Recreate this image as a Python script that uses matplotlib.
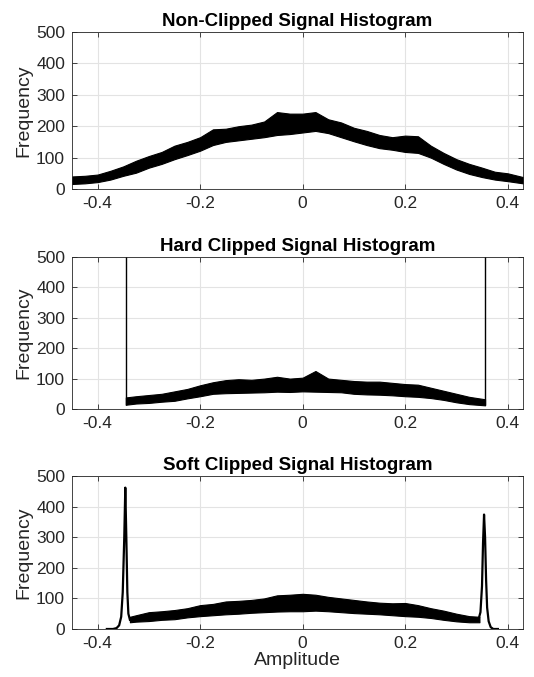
import matplotlib
matplotlib.use('Agg')
import matplotlib.pyplot as plt
import numpy as np

plt.rcParams['font.family'] = ['Liberation Sans', 'DejaVu Sans']

# non-clipped histogram: lower / upper edge of the count band
plain_x = [-0.45, -0.425, -0.4, -0.375, -0.35, -0.325, -0.3, -0.275, -0.25, -0.225,
           -0.2, -0.175, -0.15, -0.125, -0.1, -0.075, -0.05, -0.025, 0.0, 0.025,
           0.05, 0.075, 0.1, 0.125, 0.15, 0.175, 0.2, 0.225, 0.25, 0.275,
           0.3, 0.325, 0.35, 0.375, 0.4, 0.43]
plain_lo = [16, 18, 22, 30, 42, 52, 68, 80, 95, 108,
            122, 140, 150, 155, 160, 165, 172, 175, 180, 185,
            178, 165, 152, 140, 130, 125, 118, 115, 100, 80,
            62, 48, 38, 30, 25, 18]
plain_hi = [40, 42, 46, 58, 72, 90, 105, 118, 138, 150,
            165, 190, 192, 200, 205, 215, 245, 240, 240, 245,
            222, 212, 195, 185, 172, 165, 170, 168, 138, 115,
            95, 80, 68, 55, 50, 38]

# hard clipped histogram
hard_x = [-0.345, -0.325, -0.3, -0.275, -0.25, -0.225, -0.2, -0.175, -0.15, -0.125,
          -0.1, -0.075, -0.05, -0.025, 0.0, 0.025, 0.05, 0.075, 0.1, 0.125,
          0.15, 0.175, 0.2, 0.225, 0.25, 0.275, 0.3, 0.325, 0.356]
hard_lo = [14, 18, 20, 24, 27, 35, 42, 50, 52, 53,
           54, 55, 57, 56, 58, 57, 56, 55, 50, 48,
           47, 45, 42, 40, 36, 30, 22, 16, 12]
hard_hi = [38, 42, 46, 50, 58, 66, 78, 88, 95, 98,
           96, 100, 106, 100, 103, 125, 100, 96, 92, 90,
           90, 86, 82, 80, 70, 60, 50, 40, 32]
# counts piled up in the two clipping bins (off the top of the axis)
hard_edges = [-0.345, 0.356]
hard_edge_counts = [5000, 5000]

# soft clipped histogram: body band plus the two peaks
soft_x = [-0.337, -0.325, -0.3, -0.275, -0.25, -0.225, -0.2, -0.175, -0.15, -0.125,
          -0.1, -0.075, -0.05, -0.025, 0.0, 0.025, 0.05, 0.075, 0.1, 0.125,
          0.15, 0.175, 0.2, 0.225, 0.25, 0.275, 0.3, 0.325, 0.345]
soft_lo = [22, 24, 26, 30, 32, 38, 42, 45, 48, 50,
           53, 55, 57, 58, 58, 60, 58, 55, 52, 50,
           48, 45, 42, 40, 36, 30, 25, 22, 22]
soft_hi = [40, 45, 55, 58, 62, 68, 78, 82, 90, 92,
           95, 100, 110, 112, 115, 112, 105, 100, 95, 90,
           86, 84, 85, 78, 68, 60, 50, 42, 40]
peak_l_x = [-0.382, -0.37, -0.363, -0.358, -0.354, -0.351, -0.348, -0.346,
            -0.344, -0.342, -0.340, -0.337]
peak_l_y = [0, 0, 3, 12, 40, 120, 300, 462, 300, 120, 50, 30]
peak_r_x = [0.343, 0.347, 0.350, 0.352, 0.354, 0.356, 0.358, 0.360,
            0.363, 0.367, 0.372, 0.381]
peak_r_y = [30, 55, 140, 280, 374, 300, 160, 70, 25, 6, 0, 0]

fig = plt.figure(figsize=(5.34, 6.77), dpi=100)
W, H = 534.0, 677.0
boxes = [(72, 32, 523, 189), (72, 257, 523, 409), (72, 476, 523, 629)]
titles = ['Non-Clipped Signal Histogram', 'Hard Clipped Signal Histogram',
          'Soft Clipped Signal Histogram']
axc = '#262626'

axes = []
for (x0, y0, x1, y1), t in zip(boxes, titles):
    ax = fig.add_axes([x0 / W, 1 - y1 / H, (x1 - x0) / W, (y1 - y0) / H])
    ax.set_xlim(-0.45, 0.43)
    ax.set_ylim(0, 500)
    ax.set_xticks([-0.4, -0.2, 0, 0.2, 0.4])
    ax.set_xticklabels(['-0.4', '-0.2', '0', '0.2', '0.4'])
    ax.set_yticks(np.arange(0, 501, 100))
    ax.grid(True, color='#e3e3e3', lw=0.8)
    ax.set_axisbelow(True)
    ax.tick_params(direction='in', top=True, right=True, length=3.5,
                   width=0.6, colors=axc, labelsize=12.5, pad=5)
    for s in ax.spines.values():
        s.set_color(axc)
        s.set_linewidth(0.6)
    ax.set_ylabel('Frequency', fontsize=14, color=axc, labelpad=3)
    ax.set_title(t, fontsize=13.5, fontweight='bold', color='black', pad=4)
    axes.append(ax)

ax1, ax2, ax3 = axes

ax1.fill_between(plain_x, plain_lo, plain_hi, color='black', lw=0.8)

ax2.fill_between(hard_x, hard_lo, hard_hi, color='black', lw=0.8)
ax2.vlines(hard_edges, [hard_lo[0], hard_lo[-1]], hard_edge_counts,
           color='black', lw=1.0)

ax3.fill_between(soft_x, soft_lo, soft_hi, color='black', lw=0.8)
ax3.plot(peak_l_x, peak_l_y, color='black', lw=1.6)
ax3.plot(peak_r_x, peak_r_y, color='black', lw=1.6)
ax3.set_xlabel('Amplitude', fontsize=14, color=axc, labelpad=1)

fig.savefig('out.png', dpi=100)
